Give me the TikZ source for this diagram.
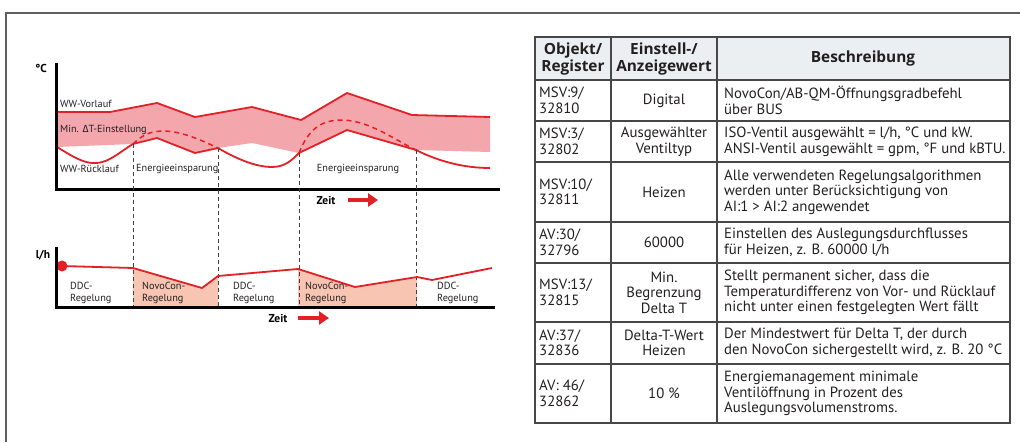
\documentclass[tikz,border=0pt]{standalone}
\usepackage{fontspec}
\setmainfont{PT Sans}
\newfontfamily\greekfont{Fira Sans}
\newfontfamily\headfont{Open Sans}
\usetikzlibrary{arrows.meta}

\definecolor{wwred}{RGB}{226,32,38}
\definecolor{bandpink}{RGB}{244,166,173}
\definecolor{novofill}{RGB}{247,197,178}
\definecolor{framegray}{RGB}{95,95,95}
\definecolor{headgray}{RGB}{236,239,241}
\definecolor{textgray}{RGB}{35,31,32}

\begin{document}
\begin{tikzpicture}[x=1pt, y=-1pt,
    lbl/.style={anchor=west, inner sep=0pt, text=textgray, align=left,
                font=\fontsize{10.3}{12.5}\selectfont},
    unitlbl/.style={inner sep=0pt, font=\fontsize{11.5}{13}\selectfont\bfseries},
    axis/.style={line width=3pt, line join=miter},
    redline/.style={wwred, line width=1.8pt, line join=round},
    sepline/.style={dash pattern=on 4pt off 3pt, line width=1pt, black!75},
    zeitarrow/.style={wwred, line width=4.5pt, -{Triangle[length=10pt, width=13pt]}},
    cell/.style={inner sep=0pt, text=textgray, font=\fontsize{14.8}{15.6}\selectfont},
    head/.style={cell, align=center, font=\headfont\fontsize{15.4}{17}\selectfont\bfseries},
    grid/.style={draw=black!72, line width=1.4pt}]

    \useasboundingbox (0,0) rectangle (1020,442);

    % outer frame
    \draw[framegray, line width=1.6pt] (6,442) -- (6,13) -- (1020,13);

    % ---------- temperature chart ----------
    \coordinate (s1) at (133,144);
    \coordinate (s2) at (218,148);
    \coordinate (s3) at (299,153);
    \coordinate (s4) at (416,150);

    % Min. Delta-T band
    \fill[bandpink] (57,112) -- (110,112) -- (157,103) -- (195,117) -- (252,107)
        -- (301,120) -- (347,93) -- (412,115) -- (490,117)
        -- (490,152) -- (s4) -- (347,130) -- (s3) -- (252,143) -- (s2)
        -- (195,153) -- (157,138) -- (s1) -- (57,147) -- cycle;

    % WW-Vorlauf
    \draw[redline] (57,112) -- (110,112) -- (157,103) -- (195,117) -- (252,107)
        -- (301,120) -- (347,93) -- (412,115) -- (490,117);

    % WW-Ruecklauf
    \draw[redline] (57,147) .. controls (75,158) and (85,164) .. (97,163)
        .. controls (110,162) and (121,151) .. (s1)
        -- (157,138) -- (195,153) -- (s2)
        .. controls (235,158) and (255,167) .. (272,167)
        .. controls (285,167) and (292,160) .. (s3)
        -- (347,130) -- (s4)
        .. controls (440,162) and (465,168) .. (490,168);

    % return temperature without NovoCon
    \draw[redline, line width=1.5pt, dash pattern=on 5pt off 4pt]
        (s1) .. controls (145,132) and (155,131) .. (165,131)
        .. controls (185,132) and (205,142) .. (s2);
    \draw[redline, line width=1.5pt, dash pattern=on 5pt off 4pt]
        (s3) .. controls (310,125) and (325,120) .. (343,120)
        .. controls (370,121) and (395,140) .. (s4);

    \node[unitlbl] (degc) at (41,68) {°C};
    \node[lbl] (vorlauf) at (60,104) {WW-Vorlauf};
    \node[lbl] (mindt) at (60,130) {Min. {\greekfont Δ}T-Einstellung};
    \node[lbl] (ruecklauf) at (60,169) {WW-Rücklauf};
    \node[lbl] (spar1) at (136,169) {Energieeinsparung};
    \node[lbl, anchor=center] (spar2) at (358,169) {Energieeinsparung};

    \draw[axis] (56,63) -- (56,189) -- (500,189);

    \node[unitlbl] (zeit1) at (326,200) {Zeit};
    \draw[zeitarrow] (348,200) -- (378,200);

    % ---------- flow chart ----------
    \fill[novofill] (133,268) -- (202,288) -- (218,276) -- (218,307) -- (133,307) -- cycle;
    \fill[novofill] (298,269) -- (355,287) -- (417,277) -- (417,307) -- (298,307) -- cycle;

    % section borders
    \draw[sepline] (s1) -- (133,307);
    \draw[sepline] (s2) -- (218,307);
    \draw[sepline] (s3) -- (299,307);
    \draw[sepline] (s4) -- (416,307);

    \draw[redline] (62,266) -- (133,268) -- (202,288) -- (218,276) -- (298,269)
        -- (355,287) -- (417,277) -- (432,280) -- (492,268);
    \fill[wwred] (62,266) circle (5.5pt);

    \node[unitlbl] (lh) at (43,255) {l/h};
    \node[lbl] (ddc1) at (70,293) {DDC-\\Regelung};
    \node[lbl] (novo1) at (142,293) {NovoCon-\\Regelung};
    \node[lbl] (ddc2) at (233,293) {DDC-\\Regelung};
    \node[lbl] (novo2) at (305,293) {NovoCon-\\Regelung};
    \node[lbl] (ddc3) at (437,293) {DDC-\\Regelung};

    \draw[axis] (56,247) -- (56,307) -- (495,307);

    \node[unitlbl] (zeit2) at (278,318) {Zeit};
    \draw[zeitarrow] (298,318) -- (329,318);

    % ---------- table ----------
    \fill[headgray] (535,37) rectangle (1010,80);
    \draw[grid] (535,37) rectangle (1010,423);
    \foreach \yy in {80,121,162,222,263,322,364}
        \draw[grid] (535,\yy) -- (1010,\yy);
    \draw[grid] (611,37) -- (611,423);
    \draw[grid] (717,37) -- (717,423);

    % header
    \node[head] (hobj) at (573,58.5) {Objekt/\\Register};
    \node[head] (hwert) at (664,58.5) {Einstell-/\\Anzeigewert};
    \node[head] (hbes) at (863,58.5) {Beschreibung};

    % rows
    \node[cell, anchor=west, align=left] (o1) at (539,100.5) {MSV:9/\\32810};
    \node[cell, align=center] (w1) at (664,100.5) {Digital};
    \node[cell, anchor=west, align=left] (b1) at (724,100.5) {NovoCon/AB-QM-Öffnungsgradbefehl\\über BUS};

    \node[cell, anchor=west, align=left] (o2) at (539,141.5) {MSV:3/\\32802};
    \node[cell, align=center] (w2) at (664,141.5) {Ausgewählter\\Ventiltyp};
    \node[cell, anchor=west, align=left] (b2) at (724,141.5) {ISO-Ventil ausgewählt = l/h, °C und kW.\\ANSI-Ventil ausgewählt = gpm, °F und kBTU.};

    \node[cell, anchor=west, align=left] (o3) at (539,192) {MSV:10/\\32811};
    \node[cell, align=center] (w3) at (664,192) {Heizen};
    \node[cell, anchor=west, align=left] (b3) at (724,192) {Alle verwendeten Regelungsalgorithmen\\werden unter Berücksichtigung von\\AI:1 > AI:2 angewendet};

    \node[cell, anchor=west, align=left] (o4) at (539,242.5) {AV:30/\\32796};
    \node[cell, align=center] (w4) at (664,242.5) {60000};
    \node[cell, anchor=west, align=left] (b4) at (724,242.5) {Einstellen des Auslegungsdurchflusses\\für Heizen, z. B. 60000 l/h};

    \node[cell, anchor=west, align=left] (o5) at (539,292.5) {MSV:13/\\32815};
    \node[cell, align=center] (w5) at (664,292.5) {Min.\\Begrenzung\\Delta T};
    \node[cell, anchor=west, align=left] (b5) at (724,292.5) {Stellt permanent sicher, dass die\\Temperaturdifferenz von Vor- und Rücklauf\\nicht unter einen festgelegten Wert fällt};

    \node[cell, anchor=west, align=left] (o6) at (539,343) {AV:37/\\32836};
    \node[cell, align=center] (w6) at (664,343) {Delta-T-Wert\\Heizen};
    \node[cell, anchor=west, align=left] (b6) at (724,343) {Der Mindestwert für Delta T, der durch\\den NovoCon sichergestellt wird, z. B. 20 °C};

    \node[cell, anchor=west, align=left] (o7) at (539,393.5) {AV: 46/\\32862};
    \node[cell, align=center] (w7) at (664,393.5) {10 \%};
    \node[cell, anchor=west, align=left] (b7) at (724,393.5) {Energiemanagement minimale\\Ventilöffnung in Prozent des\\Auslegungsvolumenstroms.};
\end{tikzpicture}
\end{document}
